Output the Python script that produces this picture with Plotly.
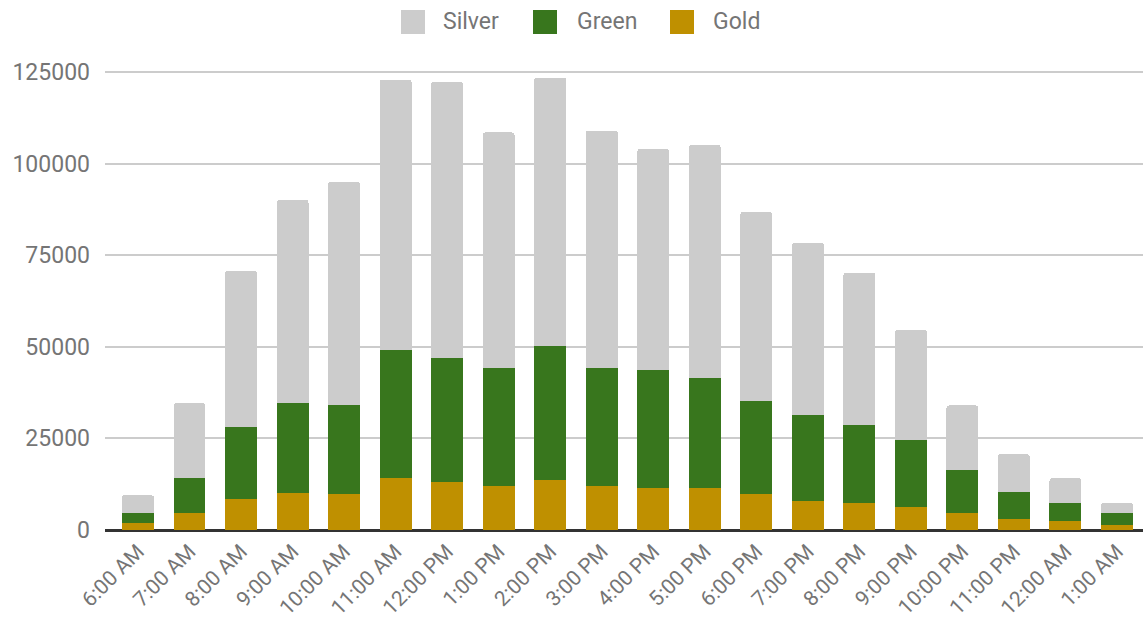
import plotly.graph_objects as go

hours = ["6:00 AM", "7:00 AM", "8:00 AM", "9:00 AM", "10:00 AM", "11:00 AM",
         "12:00 PM", "1:00 PM", "2:00 PM", "3:00 PM", "4:00 PM", "5:00 PM",
         "6:00 PM", "7:00 PM", "8:00 PM", "9:00 PM", "10:00 PM", "11:00 PM",
         "12:00 AM", "1:00 AM"]
gold = [1800, 4700, 8500, 10200, 9700, 14100, 13000, 12000, 13600, 12000,
        11400, 11400, 9700, 8000, 7500, 6400, 4700, 3000, 2500, 1400]
green = [2900, 9500, 19500, 24500, 24400, 35000, 33900, 32100, 36700, 32100,
         32200, 30000, 25600, 23400, 21100, 18300, 11700, 7300, 5000, 3300]
silver = [4800, 20400, 42700, 55400, 61000, 73800, 75400, 64400, 73200, 64900,
          60400, 63700, 51500, 47000, 41600, 29900, 17600, 10400, 6600, 2800]
y_ticks = [0, 25000, 50000, 75000, 100000, 125000]

series = [("Gold", gold, "#bf9000"), ("Green", green, "#38761d"), ("Silver", silver, "#cccccc")]

W, H = 1143, 624
L, R, T, B = 105, 0, 45, 94
PW, PH = W - L - R, H - T - B
FONT = "Roboto"
GRAY = "#757575"

fig = go.Figure()
for name, vals, col in series:
    fig.add_trace(go.Bar(x=hours, y=vals, name=name, marker=dict(color=col, line=dict(width=0)),
                         showlegend=False))

def px2paper(px, py):
    return (px - L) / PW, (H - B - py) / PH

shapes = []
annotations = []
legend_items = [("Silver", "#cccccc", 401, 441), ("Green", "#38761d", 533, 575), ("Gold", "#bf9000", 670, 711)]
for name, col, sx, tx in legend_items:
    x0, y0 = px2paper(sx, 34)
    x1, y1 = px2paper(sx + 24, 10)
    shapes.append(dict(type="rect", xref="paper", yref="paper", x0=x0, x1=x1, y0=y0, y1=y1,
                       fillcolor=col, line=dict(width=0), layer="above"))
    ax, ay = px2paper(tx, 22)
    annotations.append(dict(text=name, xref="paper", yref="paper", x=ax, y=ay,
                            xanchor="left", yanchor="middle", showarrow=False,
                            font=dict(family=FONT, size=23, color=GRAY)))

fig.update_layout(
    width=W, height=H,
    margin=dict(l=L, r=R, t=T, b=B, pad=0),
    barmode="stack", bargap=0.38, barcornerradius=3,
    plot_bgcolor="white", paper_bgcolor="white",
    shapes=shapes, annotations=annotations,
    xaxis=dict(type="category", range=[-0.64, 19.505], tickangle=-45,
               tickfont=dict(family=FONT, size=21, color=GRAY), showgrid=False,
               ticks="", showline=False, ticklabelstandoff=4, automargin=False),
    yaxis=dict(range=[0, 132370], tickvals=y_ticks, ticktext=[str(v) for v in y_ticks],
               tickfont=dict(family=FONT, size=23, color=GRAY), gridcolor="#cccccc", gridwidth=1.5,
               zeroline=True, zerolinecolor="#333333", zerolinewidth=2.5,
               ticks="", ticklabelstandoff=14, showline=False, automargin=False),
)

fig.write_html("out.html")
